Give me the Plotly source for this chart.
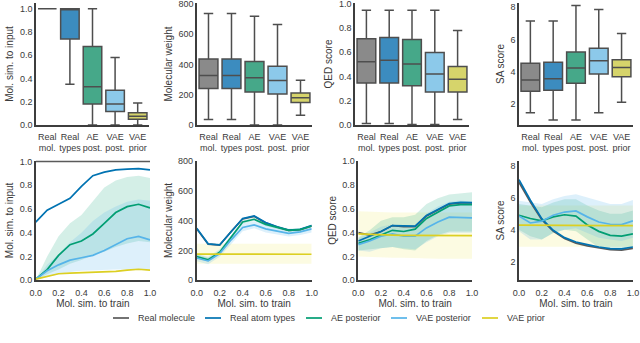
"""Decoder comparison: box summaries (top) and trends vs. train similarity (bottom)."""

import plotly.graph_objects as go
from plotly.subplots import make_subplots

# ---- data -------------------------------------------------------------
SERIES = ["Real molecule", "Real atom types", "AE posterior", "VAE posterior", "VAE prior"]
BOX_LABELS = ["Real<br>mol.", "Real<br>types", "AE<br>post.", "VAE<br>post.", "VAE<br>prior"]

# box stats per panel: (lower whisker, q1, median, q3, upper whisker) per series
SIM_BOX = [
    (1.0, 1.0, 1.0, 1.0, 1.0),
    (0.35, 0.74, 1.0, 1.0, 1.0),
    (0.0, 0.18, 0.33, 0.675, 1.0),
    (0.0, 0.115, 0.18, 0.30, 0.58),
    (0.0, 0.05, 0.075, 0.105, 0.19),
]
MW_BOX = [
    (37, 240, 326, 436, 735),
    (37, 240, 326, 436, 735),
    (0, 218, 311, 419, 718),
    (0, 204, 293, 388, 663),
    (64, 149, 180, 211, 295),
]
QED_BOX = [
    (0.013, 0.347, 0.522, 0.712, 0.947),
    (0.013, 0.347, 0.533, 0.722, 0.947),
    (0.005, 0.323, 0.503, 0.704, 0.947),
    (0.005, 0.271, 0.42, 0.598, 0.947),
    (0.045, 0.271, 0.378, 0.482, 0.78),
]
SA_BOX = [
    (1.46, 2.78, 3.48, 4.52, 7.14),
    (1.01, 2.85, 3.56, 4.58, 7.14),
    (1.01, 3.28, 4.22, 5.21, 8.09),
    (1.46, 3.85, 4.68, 5.45, 7.84),
    (2.10, 3.69, 4.25, 4.74, 6.36),
]

TRAIN_SIM = [0.0, 0.1, 0.2, 0.3, 0.4, 0.5, 0.6, 0.7, 0.8, 0.9, 1.0]

# Mol. sim. to input vs. train similarity
SIM_REAL = [1.0, 1.0, 1.0, 1.0, 1.0, 1.0, 1.0, 1.0, 1.0, 1.0, 1.0]
SIM_TYPES = [0.49, 0.59, 0.64, 0.69, 0.79, 0.88, 0.91, 0.93, 0.935, 0.94, 0.93]
SIM_AE = [0.01, 0.09, 0.21, 0.30, 0.33, 0.39, 0.48, 0.57, 0.62, 0.64, 0.61]
SIM_VAE = [0.01, 0.08, 0.13, 0.17, 0.19, 0.21, 0.25, 0.30, 0.35, 0.37, 0.34]
SIM_PRIOR = [0.01, 0.03, 0.055, 0.06, 0.064, 0.067, 0.07, 0.075, 0.085, 0.093, 0.086]
SIM_AE_HI = [0.0, 0.20, 0.37, 0.48, 0.55, 0.67, 0.78, 0.84, 0.87, 0.88, 0.86]
SIM_AE_LO = [0.0, 0.05, 0.09, 0.14, 0.17, 0.21, 0.24, 0.28, 0.31, 0.33, 0.32]
SIM_VAE_HI = [0.0, 0.13, 0.22, 0.32, 0.40, 0.50, 0.57, 0.62, 0.66, 0.68, 0.67]
SIM_VAE_LO = [0.0, 0.03, 0.05, 0.07, 0.08, 0.085, 0.09, 0.09, 0.09, 0.09, 0.09]

# Molecular weight vs. train similarity
MW_REAL = [346, 243, 236, 328, 412, 430, 386, 358, 336, 341, 365]
MW_TYPES = [350, 245, 238, 330, 415, 432, 388, 360, 338, 343, 368]
MW_AE = [160, 138, 188, 292, 392, 410, 376, 356, 336, 340, 365]
MW_VAE = [150, 130, 180, 272, 355, 372, 346, 330, 315, 325, 346]
MW_PRIOR = [176, 176, 175, 175, 175, 175, 175, 175, 175, 175, 175]
MW_AE_HI = [172, 152, 200, 305, 402, 422, 387, 366, 346, 350, 375]
MW_AE_LO = [148, 125, 175, 280, 380, 400, 365, 345, 325, 330, 355]
MW_VAE_HI = [178, 158, 208, 302, 382, 397, 372, 354, 337, 347, 377]
MW_VAE_LO = [128, 108, 158, 244, 330, 350, 322, 307, 294, 304, 322]
MW_PRIOR_HI = [246, 246, 246, 246, 246, 246, 246, 246, 246, 246, 246]
MW_PRIOR_LO = [112, 112, 112, 112, 112, 112, 112, 112, 112, 112, 112]

# QED score vs. train similarity
QED_REAL = [0.40, 0.38, 0.41, 0.46, 0.45, 0.45, 0.54, 0.59, 0.64, 0.65, 0.65]
QED_TYPES = [0.33, 0.37, 0.41, 0.46, 0.455, 0.455, 0.545, 0.595, 0.645, 0.655, 0.652]
QED_AE = [0.31, 0.34, 0.38, 0.42, 0.41, 0.43, 0.52, 0.57, 0.625, 0.635, 0.635]
QED_VAE = [0.30, 0.33, 0.37, 0.39, 0.37, 0.37, 0.44, 0.49, 0.53, 0.53, 0.525]
QED_PRIOR = [0.39, 0.385, 0.38, 0.38, 0.378, 0.377, 0.377, 0.376, 0.376, 0.375, 0.375]
QED_AE_HI = [0.36, 0.42, 0.50, 0.53, 0.53, 0.55, 0.64, 0.69, 0.72, 0.73, 0.74]
QED_AE_LO = [0.25, 0.26, 0.27, 0.28, 0.26, 0.25, 0.33, 0.38, 0.41, 0.41, 0.41]
QED_VAE_HI = [0.35, 0.40, 0.45, 0.47, 0.45, 0.46, 0.56, 0.62, 0.66, 0.67, 0.66]
QED_VAE_LO = [0.25, 0.24, 0.27, 0.28, 0.27, 0.26, 0.32, 0.37, 0.40, 0.40, 0.40]
QED_PRIOR_HI = [0.58, 0.575, 0.57, 0.57, 0.57, 0.57, 0.57, 0.57, 0.57, 0.57, 0.57]
QED_PRIOR_LO = [0.20, 0.195, 0.19, 0.19, 0.19, 0.185, 0.185, 0.18, 0.18, 0.18, 0.18]

# SA score vs. train similarity
SA_REAL = [6.95, 5.72, 4.62, 3.92, 3.45, 3.17, 3.00, 2.86, 2.76, 2.74, 2.84]
SA_TYPES = [7.11, 5.83, 4.69, 3.97, 3.51, 3.24, 3.08, 2.93, 2.83, 2.81, 2.93]
SA_AE = [4.90, 4.70, 4.55, 4.80, 4.93, 4.85, 4.30, 3.90, 3.65, 3.60, 3.75]
SA_VAE = [4.86, 4.42, 4.53, 4.90, 5.10, 5.17, 4.80, 4.48, 4.34, 4.32, 4.55]
SA_PRIOR = [4.29, 4.28, 4.28, 4.27, 4.27, 4.26, 4.26, 4.26, 4.25, 4.25, 4.25]
SA_AE_HI = [5.6, 5.5, 5.4, 5.7, 5.9, 5.9, 5.5, 5.2, 5.0, 5.0, 5.2]
SA_AE_LO = [4.0, 3.6, 3.4, 3.8, 4.0, 3.9, 3.4, 2.9, 2.8, 2.8, 2.9]
SA_VAE_HI = [5.8, 5.7, 5.6, 5.9, 6.1, 6.2, 6.0, 5.8, 5.6, 5.6, 5.85]
SA_VAE_LO = [3.9, 3.4, 3.4, 3.8, 4.0, 4.1, 3.8, 3.5, 3.4, 3.3, 3.5]
SA_PRIOR_HI = [5.5, 5.5, 5.5, 5.5, 5.5, 5.5, 5.5, 5.5, 5.5, 5.5, 5.5]
SA_PRIOR_LO = [2.95, 2.95, 2.95, 2.95, 2.95, 2.95, 2.95, 2.95, 2.95, 2.95, 2.95]

# ---- style ------------------------------------------------------------
W, H = 640, 343
LINE_COLORS = ["#5a5a5a", "#0173b2", "#029e73", "#56b4e9", "#dccf22"]
BOX_FILLS = ["#8a8a8a", "#3c8cbf", "#46a889", "#8cc9ea", "#d6d46b"]
BAND_FILLS = {
    "ae": "rgba(2,158,115,0.17)",
    "vae": "rgba(86,180,233,0.2)",
    "prior": "rgba(236,225,51,0.14)",
}
FONT = "Liberation Sans, Arial, sans-serif"
TXT = "#3a3a3a"
AX = "#3d3d3d"
# legend handle start (px) for each series, matplotlib-style short handles
LEGEND_PX = [113, 205, 306, 391, 482]
LEGEND_Y_PX = 318

fig = make_subplots(rows=2, cols=4)

box_panels = [SIM_BOX, MW_BOX, QED_BOX, SA_BOX]
for c, stats in enumerate(box_panels, start=1):
    for i, (lo, q1, med, q3, hi) in enumerate(stats):
        fig.add_trace(
            go.Box(
                x=[BOX_LABELS[i]],
                lowerfence=[lo], q1=[q1], median=[med], q3=[q3], upperfence=[hi],
                fillcolor=BOX_FILLS[i],
                line=dict(color="#4e4e4e", width=1.5),
                whiskerwidth=0.5,
                width=0.82,
                boxpoints=False,
                showlegend=False,
                hoverinfo="skip",
            ),
            row=1, col=c,
        )

trend_panels = [
    dict(lines=[SIM_REAL, SIM_TYPES, SIM_AE, SIM_VAE, SIM_PRIOR],
         bands=[("ae", SIM_AE_HI, SIM_AE_LO), ("vae", SIM_VAE_HI, SIM_VAE_LO)]),
    dict(lines=[MW_REAL, MW_TYPES, MW_AE, MW_VAE, MW_PRIOR],
         bands=[("prior", MW_PRIOR_HI, MW_PRIOR_LO), ("ae", MW_AE_HI, MW_AE_LO),
                ("vae", MW_VAE_HI, MW_VAE_LO)]),
    dict(lines=[QED_REAL, QED_TYPES, QED_AE, QED_VAE, QED_PRIOR],
         bands=[("prior", QED_PRIOR_HI, QED_PRIOR_LO), ("ae", QED_AE_HI, QED_AE_LO),
                ("vae", QED_VAE_HI, QED_VAE_LO)]),
    dict(lines=[SA_REAL, SA_TYPES, SA_AE, SA_VAE, SA_PRIOR],
         bands=[("prior", SA_PRIOR_HI, SA_PRIOR_LO), ("ae", SA_AE_HI, SA_AE_LO),
                ("vae", SA_VAE_HI, SA_VAE_LO)]),
]

for c, panel in enumerate(trend_panels, start=1):
    for key, hi, lo in panel["bands"]:
        fig.add_trace(go.Scatter(x=TRAIN_SIM, y=hi, mode="lines", line=dict(width=0),
                                 showlegend=False, hoverinfo="skip"), row=2, col=c)
        fig.add_trace(go.Scatter(x=TRAIN_SIM, y=lo, mode="lines", line=dict(width=0),
                                 fill="tonexty", fillcolor=BAND_FILLS[key],
                                 showlegend=False, hoverinfo="skip"), row=2, col=c)
    for i, ys in enumerate(panel["lines"]):
        fig.add_trace(
            go.Scatter(
                x=TRAIN_SIM, y=ys, mode="lines", name=SERIES[i],
                line=dict(color=LINE_COLORS[i], width=1.7),
                showlegend=False,
            ),
            row=2, col=c,
        )

# shared legend drawn by hand so the handles stay short like the original
ly = 1 - LEGEND_Y_PX / H
for name, color, px in zip(SERIES, LINE_COLORS, LEGEND_PX):
    fig.add_shape(type="line", xref="paper", yref="paper",
                  x0=px / W, x1=(px + 16) / W, y0=ly, y1=ly,
                  line=dict(color=color, width=1.7))
    fig.add_annotation(xref="paper", yref="paper", x=(px + 23) / W, y=ly,
                       xanchor="left", yanchor="middle", showarrow=False, text=name,
                       font=dict(size=9, color=TXT, family=FONT))

# ---- axes -------------------------------------------------------------
top_x = [[0.05625, 0.2328], [0.3078, 0.4875], [0.5547, 0.7328], [0.8109, 0.989]]
bot_x = [[0.0558, 0.2344], [0.3073, 0.487], [0.5598, 0.7375], [0.8109, 0.989]]
top_y = [0.6356, 0.9913]
bot_y = [0.1828, 0.532]

titles = ["Mol. sim. to input", "Molecular weight", "QED score", "SA score"]
top_ranges = [[0, 1.05], [0, 805], [0, 1.006], [0.7, 8.25]]
bot_ranges = [[0, 1.008], [0, 805], [0, 1.006], [0.86, 8.3]]
ticks = [
    dict(tickvals=[0, 0.2, 0.4, 0.6, 0.8, 1.0], tickformat=".1f"),
    dict(tickvals=[0, 200, 400, 600, 800], tickformat="d"),
    dict(tickvals=[0, 0.2, 0.4, 0.6, 0.8, 1.0], tickformat=".1f"),
    dict(tickvals=[2, 4, 6, 8], tickformat="d"),
]

title_font = dict(size=10, color=TXT, family=FONT)
common = dict(showline=True, linecolor=AX, linewidth=1.5, showgrid=False, zeroline=False,
              automargin=False, ticklabeloverflow="allow", ticks="",
              tickfont=dict(size=9, color=TXT, family=FONT))
# invisible short ticks just to push the x labels a little off the spine
xtick_gap = dict(ticks="outside", ticklen=3, tickcolor="rgba(0,0,0,0)")

for c in range(1, 5):
    fig.update_xaxes(common, row=1, col=c, domain=top_x[c - 1], range=[-0.5, 4.5],
                     type="category", tickvals=BOX_LABELS, ticktext=BOX_LABELS,
                     tickangle=0, **dict(xtick_gap, ticklen=2))
    fig.update_yaxes(common, row=1, col=c, domain=top_y, range=top_ranges[c - 1],
                     title=dict(text=titles[c - 1], standoff=4, font=title_font),
                     **ticks[c - 1])
    fig.update_xaxes(common, row=2, col=c, domain=bot_x[c - 1], range=[0, 1.0],
                     tickvals=[0, 0.2, 0.4, 0.6, 0.8, 1.0], tickformat=".1f",
                     tickangle=0, **xtick_gap,
                     title=dict(text="Mol. sim. to train", standoff=2, font=title_font))
    fig.update_yaxes(common, row=2, col=c, domain=bot_y, range=bot_ranges[c - 1],
                     title=dict(text=titles[c - 1], standoff=4, font=title_font),
                     **ticks[c - 1])

fig.update_layout(
    width=W, height=H,
    margin=dict(l=0, r=0, t=0, b=0),
    plot_bgcolor="white", paper_bgcolor="white",
    font=dict(family=FONT, size=9, color=TXT),
    boxmode="overlay",
    showlegend=False,
)

# drop the browser's default 8px page margin so the figure sits at the window origin
fig.write_html("out.html", config={"displayModeBar": False},
               post_script="document.body.style.margin = '0';")
